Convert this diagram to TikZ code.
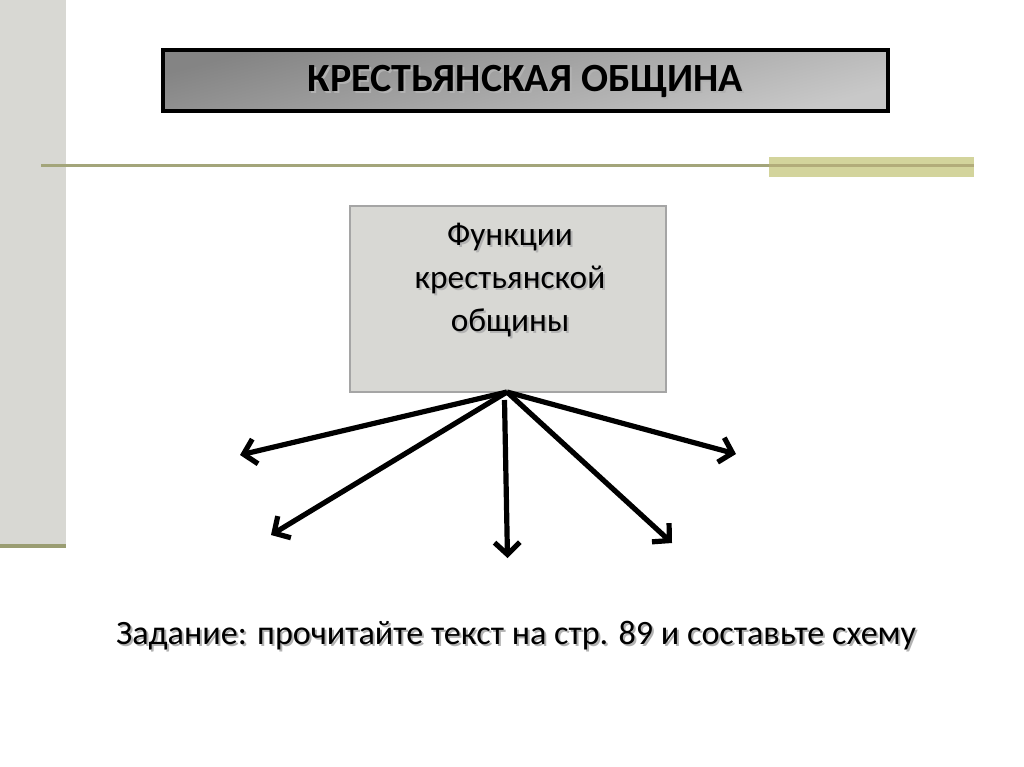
\documentclass[tikz,border=0pt]{standalone}
\usepackage{fontspec}
\setmainfont{Carlito}
\usetikzlibrary{arrows.meta}
\definecolor{barfill}{RGB}{216,216,211}
\definecolor{barstrip}{RGB}{154,157,114}
\definecolor{rulecol}{RGB}{163,165,122}
\definecolor{bandfill}{RGB}{211,212,156}
\definecolor{bandline}{RGB}{178,172,122}
\definecolor{boxfill}{RGB}{216,216,212}
\definecolor{boxdraw}{RGB}{165,165,165}
\definecolor{titletop}{RGB}{132,132,132}
\definecolor{titlebot}{RGB}{200,200,200}
\newcommand\shtext[1]{\makebox[0pt][l]{\hspace{1.5pt}\raisebox{-1.5pt}{\textcolor{black!30}{#1}}}#1}
\tikzset{
  titlebox/.style={draw=black, line width=3pt, top color=titletop, bottom color=titlebot, shading angle=15,
    minimum width=543.75pt, minimum height=45.75pt, inner sep=0pt, text height=17.2pt, text depth=0pt,
    font=\fontsize{30}{36}\selectfont\bfseries, text=black},
  funcbox/.style={draw=boxdraw, line width=1.8pt, fill=boxfill, minimum width=237pt, minimum height=139.5pt, inner sep=0pt},
  functext/.style={align=center, font=\fontsize{25}{32}\selectfont, text=black, inner sep=0pt},
  tasktext/.style={font=\fontsize{25.6}{30}\selectfont, text=black, inner sep=0pt},
  fnarrow/.style={line width=3.9pt, -{Straight Barb[length=9pt,width=19pt]}, black}
}
\begin{document}
\begin{tikzpicture}[x=0.75pt,y=-0.75pt]
\useasboundingbox (0,0) rectangle (1024,767);
\fill[white] (0,0) rectangle (1024,767);
% left bar
\fill[barfill] (0,0) rectangle (66,544);
\fill[barstrip] (0,544) rectangle (66,548);
% rule and band
\fill[bandfill] (769,157) rectangle (974,177);
\draw[rulecol, line width=1.6pt] (41,165.5) -- (769,165.5);
\draw[bandline, line width=1.6pt] (769,165.5) -- (974,165.5);
% title
\node[titlebox] (title) at (525.5,80.5) {\shtext{КРЕСТЬЯНСКАЯ ОБЩИНА}};
% function box
\node[funcbox] (func) at (508,299) {};
\node[functext] (ftext) at (510,281) {\shtext{Функции}\\\shtext{крестьянской}\\\shtext{общины}};
% arrows
\coordinate (o) at (507,392);
\coordinate (ds) at (504.5,400);
\coordinate (t1) at (240,455);
\coordinate (t2) at (271,535);
\coordinate (t3) at (507.5,558);
\coordinate (t4) at (672,543);
\coordinate (t5) at (736,454);
\draw[fnarrow] (o) -- (t1);
\draw[fnarrow] (o) -- (t2);
\draw[fnarrow] (ds) -- (t3);
\draw[fnarrow] (o) -- (t4);
\draw[fnarrow] (o) -- (t5);
% task
\node[tasktext] (task) at (516,637) {\shtext{Задание: прочитайте текст на стр. 89 и составьте схему}};
\end{tikzpicture}
\end{document}
